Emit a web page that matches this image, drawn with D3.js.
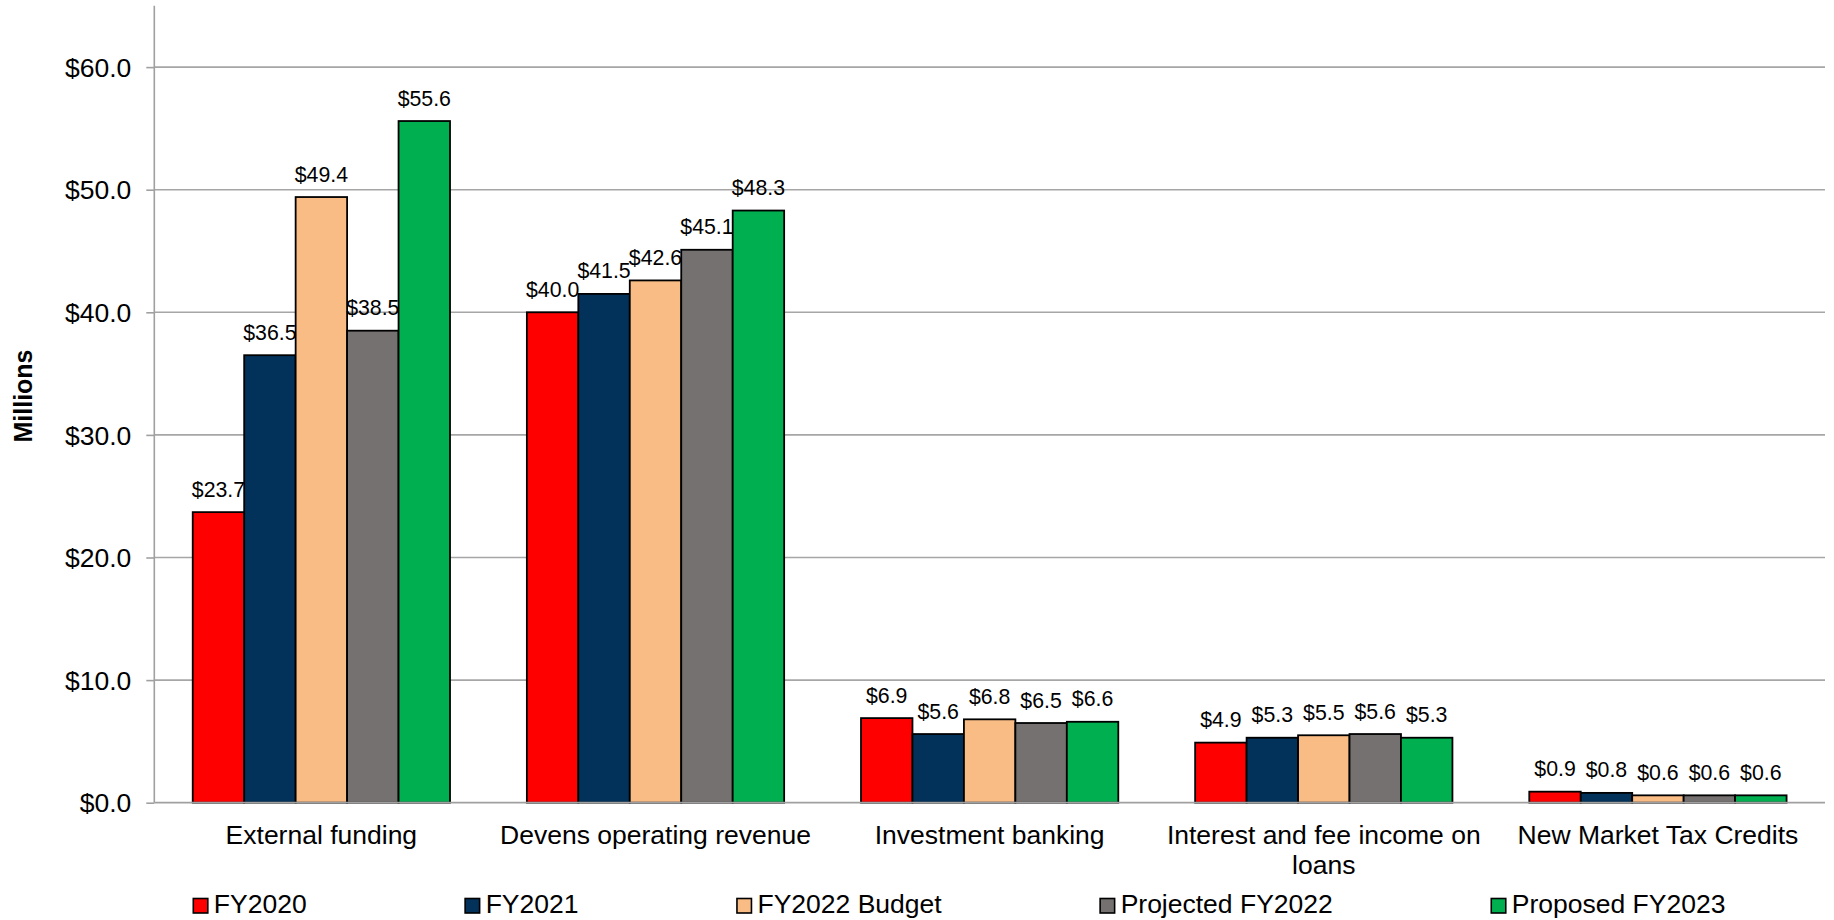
<!DOCTYPE html>
<html>
<head>
<meta charset="utf-8">
<script src="https://cdn.jsdelivr.net/npm/d3@7"></script>
<style>
  html, body { margin: 0; padding: 0; background: #ffffff; }
  svg { display: block; font-family: "Liberation Sans", Arial, sans-serif; }
</style>
</head>
<body>
<svg id="chart" width="1834" height="920"></svg>
<script>
// ---- data ----
const categories = ["External funding", "Devens operating revenue", "Investment banking", "Interest and fee income on loans", "New Market Tax Credits"];
const seriesNames = ["FY2020", "FY2021", "FY2022 Budget", "Projected FY2022", "Proposed FY2023"];
const fy2020 = [23.7, 40.0, 6.9, 4.9, 0.9];
const fy2021 = [36.5, 41.5, 5.6, 5.3, 0.8];
const fy2022Budget = [49.4, 42.6, 6.8, 5.5, 0.6];
const projectedFy2022 = [38.5, 45.1, 6.5, 5.6, 0.6];
const proposedFy2023 = [55.6, 48.3, 6.6, 5.3, 0.6];
const yTicks = [0, 10, 20, 30, 40, 50, 60];
const yTickLabels = ["$0.0", "$10.0", "$20.0", "$30.0", "$40.0", "$50.0", "$60.0"];
const yAxisTitle = "Millions";
const colors = ["#FF0000", "#02315A", "#FABC85", "#767171", "#00B050"];

const seriesValues = [fy2020, fy2021, fy2022Budget, projectedFy2022, proposedFy2023];

// ---- layout ----
const svg = d3.select("#chart");
const plotLeft = 154.3, plotRight = 1825, plotTop = 5.8, plotBottom = 802.7;

const x0 = d3.scaleBand().domain(categories).range([plotLeft, plotRight])
  .paddingInner(0.23).paddingOuter(0.115);
const x1 = d3.scaleBand().domain(seriesNames).range([0, x0.bandwidth()]).padding(0);
const y = d3.scaleLinear().domain([0, 65]).range([plotBottom, plotTop]);

// gridlines
svg.append("g").selectAll("line").data(yTicks.filter(d => d > 0)).join("line")
  .attr("x1", plotLeft).attr("x2", plotRight)
  .attr("y1", d => y(d)).attr("y2", d => y(d))
  .attr("stroke", "#A6A6A6").attr("stroke-width", 1.6);

// y axis
const yAxis = d3.axisLeft(y).tickValues(yTicks).tickSize(8).tickPadding(15)
  .tickFormat((d, i) => yTickLabels[i]);
const yg = svg.append("g").attr("transform", `translate(${plotLeft},0)`).call(yAxis);
yg.select(".domain").attr("stroke", "#A0A0A0").attr("stroke-width", 1.6)
  .attr("d", `M0,${plotTop}V${plotBottom}`);
yg.selectAll(".tick line").attr("stroke", "#A0A0A0").attr("stroke-width", 1.6);
yg.selectAll(".tick text").attr("font-size", 26.5).attr("fill", "#000")
  .attr("font-family", "Liberation Sans, Arial, sans-serif").attr("dy", "0.35em");

// bars
const groups = svg.append("g").selectAll("g").data(categories).join("g")
  .attr("transform", c => `translate(${x0(c)},0)`);

groups.each(function(c, ci) {
  const g = d3.select(this);
  const rows = seriesNames.map((s, si) => ({ s, si, v: seriesValues[si][ci] }));
  g.selectAll("rect").data(rows).join("rect")
    .attr("x", d => x1(d.s)).attr("width", x1.bandwidth())
    .attr("y", d => y(d.v)).attr("height", d => y(0) - y(d.v))
    .attr("fill", d => colors[d.si])
    .attr("stroke", "#000").attr("stroke-width", 1.8);
});

// x baseline
svg.append("line").attr("x1", plotLeft).attr("x2", plotRight)
  .attr("y1", y(0)).attr("y2", y(0)).attr("stroke", "#A0A0A0").attr("stroke-width", 1.8);

// data labels
groups.each(function(c, ci) {
  const g = d3.select(this);
  const rows = seriesNames.map((s, si) => ({ s, si, v: seriesValues[si][ci] }));
  g.selectAll("text.lbl").data(rows).join("text").attr("class", "lbl")
    .attr("x", d => x1(d.s) + x1.bandwidth() / 2)
    .attr("y", d => y(d.v) - 15.5)
    .attr("text-anchor", "middle").attr("font-size", 21.3).attr("fill", "#000")
    .text(d => "$" + d.v.toFixed(1));
});

// category labels with wrapping
function wrapLines(text, maxW, fontSize) {
  const tmp = svg.append("text").attr("font-size", fontSize).attr("visibility", "hidden");
  const words = text.split(" ");
  const lines = [];
  let cur = [];
  for (const w of words) {
    const test = cur.concat([w]).join(" ");
    tmp.text(test);
    if (tmp.node().getComputedTextLength() > maxW && cur.length) {
      lines.push(cur.join(" "));
      cur = [w];
    } else cur.push(w);
  }
  if (cur.length) lines.push(cur.join(" "));
  tmp.remove();
  return lines;
}
categories.forEach(c => {
  const lines = wrapLines(c, x0.step() - 4, 26.5);
  const t = svg.append("text").attr("text-anchor", "middle").attr("font-size", 26.5).attr("fill", "#000");
  lines.forEach((ln, i) => {
    t.append("tspan").attr("x", x0(c) + x0.bandwidth() / 2).attr("y", 844 + i * 30).text(ln);
  });
});

// y axis title
svg.append("text").attr("transform", `translate(32,396) rotate(-90)`)
  .attr("text-anchor", "middle").attr("font-size", 25).attr("font-weight", "bold")
  .attr("fill", "#000").text(yAxisTitle);

// legend
const legend = svg.append("g");
let lx = 193.3;
seriesNames.forEach((s, i) => {
  const item = legend.append("g").attr("transform", `translate(${lx},0)`);
  item.append("rect").attr("x", 0).attr("y", 898.5).attr("width", 14.5).attr("height", 14.5)
    .attr("fill", colors[i]).attr("stroke", "#000").attr("stroke-width", 1.6);
  const t = item.append("text").attr("x", 20.5).attr("y", 913).attr("font-size", 26.5)
    .attr("fill", "#000").text(s);
  lx += 20.5 + t.node().getComputedTextLength() + 158.5;
});
</script>
</body>
</html>
